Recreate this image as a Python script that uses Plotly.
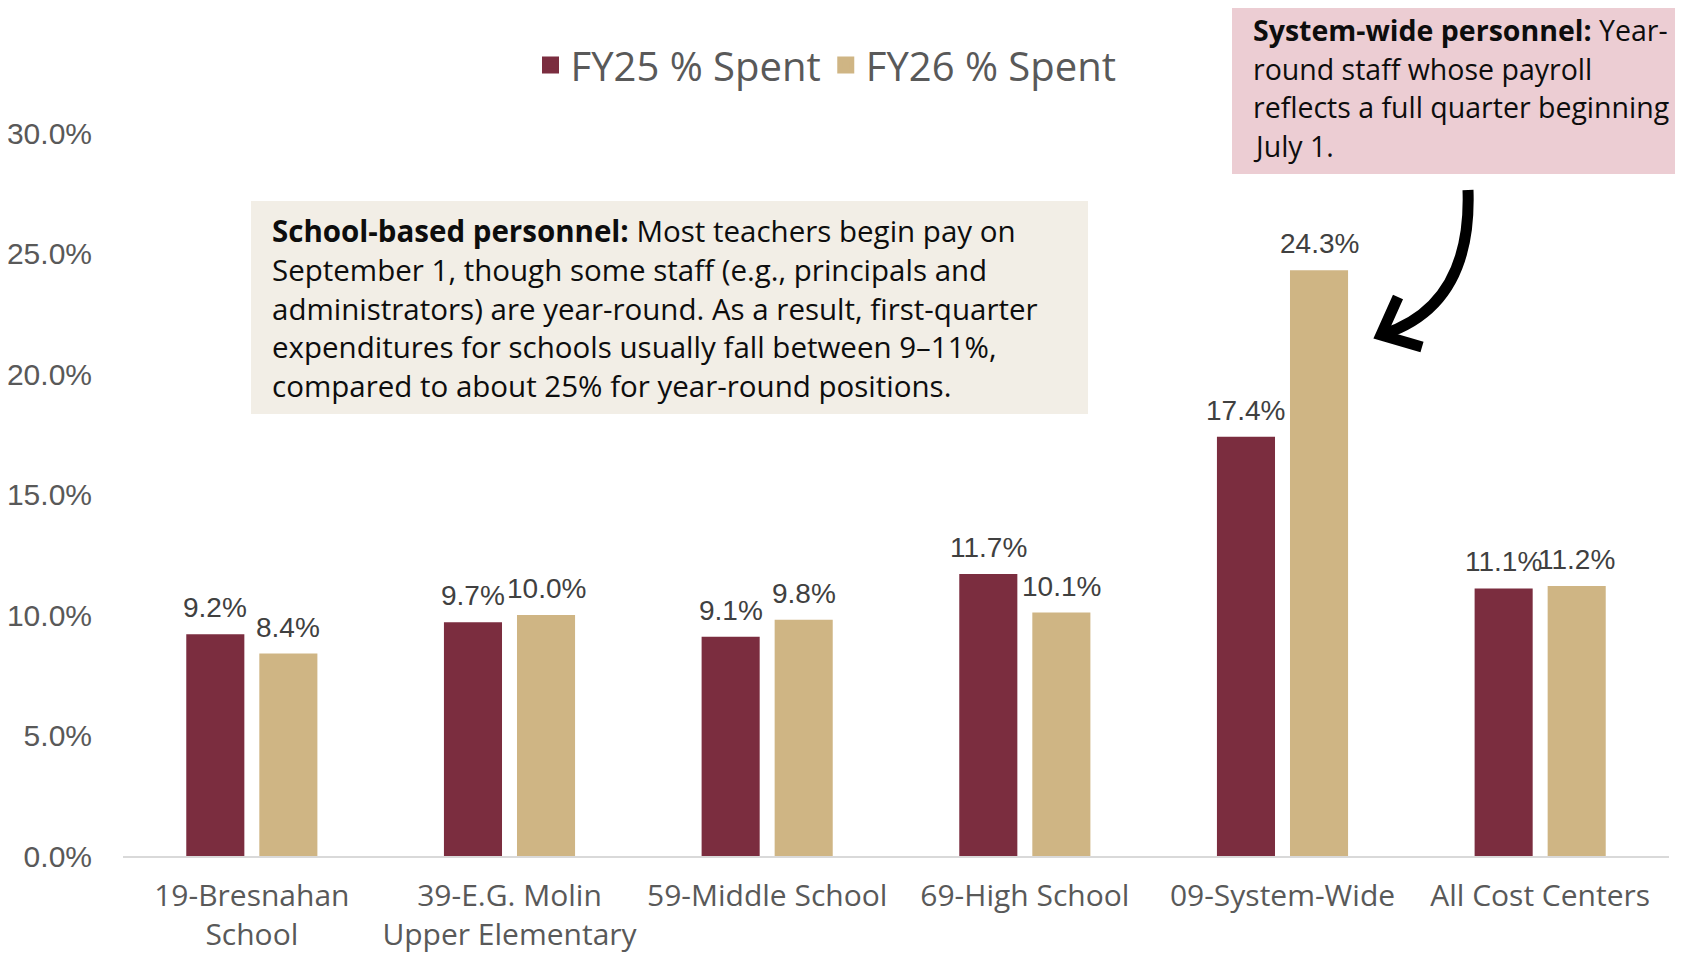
import plotly.graph_objects as go

# ---- data ----
categories = ["19-Bresnahan<br>School", "39-E.G. Molin<br>Upper Elementary", "59-Middle School",
              "69-High School", "09-System-Wide", "All Cost Centers"]
fy25 = [9.2, 9.7, 9.1, 11.7, 17.4, 11.1]
fy26 = [8.4, 10.0, 9.8, 10.1, 24.3, 11.2]
series_names = ["FY25 % Spent", "FY26 % Spent"]
y_tick_vals = [0, 5, 10, 15, 20, 25, 30]
y_tick_text = ["0.0%", "5.0%", "10.0%", "15.0%", "20.0%", "25.0%", "30.0%"]

box1_lines = [
    "<b>School-based personnel:</b> Most teachers begin pay on",
    "September 1, though some staff (e.g., principals and",
    "administrators) are year-round. As a result, first-quarter",
    "expenditures for schools usually fall between 9–11%,",
    "compared to about 25% for year-round positions.",
]
box2_lines = [
    "<b>System-wide personnel:</b> Year-",
    "round staff whose payroll",
    "reflects a full quarter beginning",
    "July 1.",
]

# ---- style / layout ----
colors = ["#7B2D3F", "#CFB584"]
PAGE_W, PAGE_H = 1683, 954
OFF = 8  # default page body margin
W, H = PAGE_W - OFF, PAGE_H - OFF
L, R, T, B = 123 - OFF, 14, 133 - OFF, 98
PW, PH = W - L - R, H - T - B
BARGAP, BARGROUPGAP = 0.433, 0.205
SANS = "Open Sans"
ARIAL = "Liberation Sans, Arial"


def px(x):  # page pixel -> paper x
    return (x - OFF - L) / PW


def py(y):  # page pixel -> paper y
    return (H - B - (y - OFF)) / PH


fig = go.Figure()
for k, (name, vals, col) in enumerate(zip(series_names, [fy25, fy26], colors)):
    fig.add_trace(go.Bar(x=categories, y=vals, name=name, marker_color=col,
                         marker_line_width=0, hoverinfo="skip", showlegend=False,
                         offsetgroup=str(k), legendgroup=str(k)))
    # legend entry with a larger swatch (no bars drawn)
    fig.add_trace(go.Bar(x=[categories[0]], y=[None], name=name, marker_color=col,
                         marker_line=dict(color=col, width=12), hoverinfo="skip",
                         offsetgroup=str(k), legendgroup=str(k)))

# data labels, placed via the axes
cat_w = PW / len(categories)
slot = (1 - BARGAP) * cat_w / 2
for i, vals in enumerate([fy25, fy26]):
    shift = (i - 0.5) * slot
    for c, v in zip(categories, vals):
        fig.add_annotation(x=c, y=v, xref="x", yref="y", text=f"{v:.1f}%",
                           showarrow=False, xshift=shift, yshift=9, yanchor="bottom",
                           font=dict(family=ARIAL, size=28, color="#404040"))

# callout boxes
fig.add_shape(type="rect", xref="paper", yref="paper", x0=px(251), x1=px(1088),
              y0=py(414), y1=py(201), fillcolor="#F2EEE6", line_width=0, layer="below")
fig.add_shape(type="rect", xref="paper", yref="paper", x0=px(1232), x1=px(1695),
              y0=py(174), y1=py(-5), fillcolor="#ECCDD3", line_width=0, layer="below")

for k, line in enumerate(box1_lines):
    fig.add_annotation(x=px(270), y=py(231 + k * 38.6), xref="paper", yref="paper",
                       text=line, showarrow=False, xanchor="left", yanchor="middle",
                       align="left", font=dict(family=SANS, size=29.5, color="#0D0D0D"))
for k, line in enumerate(box2_lines):
    fig.add_annotation(x=px(1251), y=py(30 + k * 38.6), xref="paper", yref="paper",
                       text=line, showarrow=False, xanchor="left", yanchor="middle",
                       align="left", font=dict(family=SANS, size=28.5, color="#0D0D0D"))

# curved arrow
fig.add_shape(type="path", xref="paper", yref="paper",
              path=f"M {px(1468)},{py(190)} Q {px(1472)},{py(305)} {px(1384)},{py(334)}",
              line=dict(color="black", width=11))
fig.add_shape(type="path", xref="paper", yref="paper",
              path=f"M {px(1398)},{py(297)} L {px(1381)},{py(335)} L {px(1422)},{py(347)}",
              line=dict(color="black", width=11))

fig.update_layout(
    width=W, height=H,
    margin=dict(l=L, r=R, t=T, b=B, autoexpand=False),
    plot_bgcolor="white", paper_bgcolor="white",
    barmode="group", bargap=BARGAP, bargroupgap=BARGROUPGAP,
    showlegend=True,
    legend=dict(orientation="h", x=px(826), xanchor="center", y=py(65), yanchor="middle",
                font=dict(family=SANS, size=40, color="#595959"), itemwidth=30,
                bgcolor="rgba(0,0,0,0)", traceorder="normal"),
    xaxis=dict(showline=True, linecolor="#D9D9D9", linewidth=2, ticks="",
               tickfont=dict(family=SANS, size=30, color="#595959"),
               ticklabelstandoff=12, showgrid=False, fixedrange=True),
    yaxis=dict(range=[0, 30], tickvals=y_tick_vals, ticktext=y_tick_text,
               showgrid=False, zeroline=False, showline=False, ticks="",
               tickfont=dict(family=ARIAL, size=30, color="#595959"),
               ticklabelstandoff=30, fixedrange=True),
)

fig.write_html("out.html")
